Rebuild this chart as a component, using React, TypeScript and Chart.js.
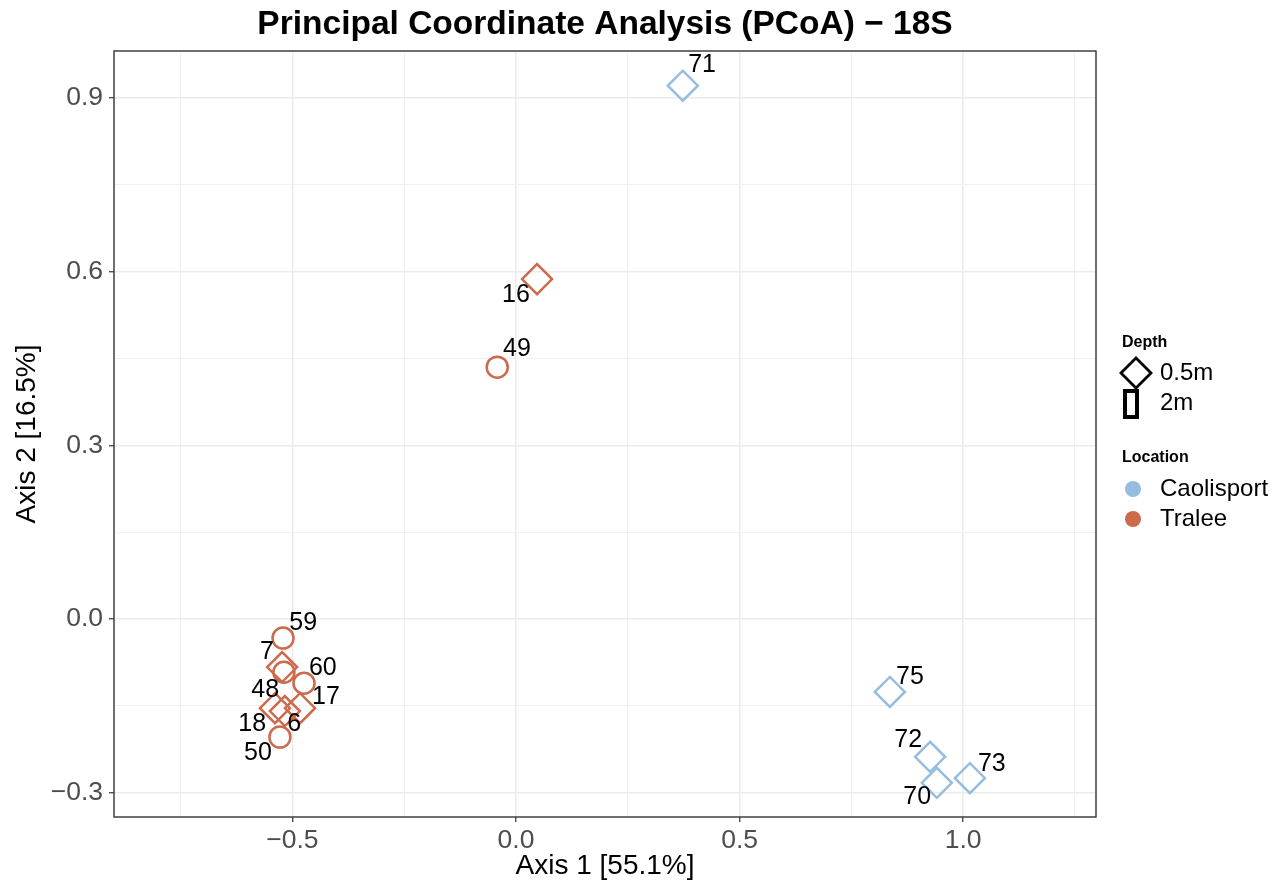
import React, { useEffect, useRef } from "react";
import { Chart, registerables } from "chart.js";

Chart.register(...registerables);

// ---- data ----
const sampleIds = ["71", "16", "49", "59", "7", "48", "60", "17", "18", "6", "50", "75", "72", "73", "70"];
const axis1 = [0.373, 0.047, -0.042, -0.521, -0.523, -0.519, -0.474, -0.483, -0.539, -0.517, -0.528, 0.836, 0.926, 1.015, 0.941];
const axis2 = [0.921, 0.587, 0.435, -0.033, -0.083, -0.092, -0.111, -0.154, -0.154, -0.159, -0.204, -0.126, -0.238, -0.275, -0.283];
const locationOf = ["Caolisport", "Tralee", "Tralee", "Tralee", "Tralee", "Tralee", "Tralee", "Tralee", "Tralee", "Tralee", "Tralee", "Caolisport", "Caolisport", "Caolisport", "Caolisport"];
const depthOf = ["0.5m", "0.5m", "2m", "2m", "0.5m", "2m", "2m", "0.5m", "0.5m", "0.5m", "2m", "0.5m", "0.5m", "0.5m", "0.5m"];
// repelled label positions (data units)
const labelX = [0.416, 0.0, 0.002, -0.476, -0.557, -0.561, -0.432, -0.425, -0.59, -0.496, -0.577, 0.881, 0.877, 1.064, 0.897];
const labelY = [0.957, 0.56, 0.466, -0.007, -0.057, -0.123, -0.085, -0.135, -0.181, -0.181, -0.231, -0.1, -0.209, -0.25, -0.307];

const locations = ["Caolisport", "Tralee"];
const locationColors = ["#96BDE0", "#CC6A4B"];
const depthLevels = ["0.5m", "2m"];
const depthStyles = ["rectRot", "circle"];

const xMajorTicks = [-0.5, 0, 0.5, 1.0];
const xMajorLabels = ["\u22120.5", "0.0", "0.5", "1.0"];
const xMinorTicks = [-0.75, -0.25, 0.25, 0.75, 1.25];
const yMajorTicks = [-0.3, 0, 0.3, 0.6, 0.9];
const yMajorLabels = ["\u22120.3", "0.0", "0.3", "0.6", "0.9"];
const yMinorTicks = [-0.15, 0.15, 0.45, 0.75];

const xRange = [-0.899, 1.297];
const yRange = [-0.342, 0.981];

const titleText = "Principal Coordinate Analysis (PCoA) \u2212 18S";
const xTitle = "Axis 1 [55.1%]";
const yTitle = "Axis 2 [16.5%]";

const FONT = "'Liberation Sans', Arial, sans-serif";

function isMajor(v: number, majors: number[]) {
  return majors.some((m) => Math.abs(m - v) < 1e-9);
}

export default function App() {
  const ref = useRef<HTMLCanvasElement | null>(null);

  useEffect(() => {
    const canvas = ref.current;
    if (!canvas) return;

    const datasets = locations.map((loc, li) => {
      const idx = sampleIds.map((_, i) => i).filter((i) => locationOf[i] === loc);
      return {
        label: loc,
        data: idx.map((i) => ({ x: axis1[i], y: axis2[i] })),
        pointStyle: idx.map((i) => depthStyles[depthLevels.indexOf(depthOf[i])]),
        pointRadius: idx.map((i) => (depthOf[i] === "0.5m" ? 15 : 10.5)),
        pointBorderWidth: 2.5,
        pointBorderColor: locationColors[li],
        pointBackgroundColor: "rgba(0,0,0,0)",
        showLine: false,
      };
    });

    const labelPlugin = {
      id: "pointLabels",
      afterDatasetsDraw(chart: any) {
        const ctx = chart.ctx;
        const xs = chart.scales.x;
        const ys = chart.scales.y;
        ctx.save();
        ctx.font = `25px ${FONT}`;
        ctx.fillStyle = "#000000";
        ctx.textAlign = "center";
        ctx.textBaseline = "middle";
        for (let i = 0; i < sampleIds.length; i++) {
          ctx.fillText(sampleIds[i], xs.getPixelForValue(labelX[i]), ys.getPixelForValue(labelY[i]));
        }
        ctx.restore();
      },
      afterDraw(chart: any) {
        const ctx = chart.ctx;
        const a = chart.chartArea;
        ctx.save();
        // panel border
        ctx.strokeStyle = "#333333";
        ctx.lineWidth = 1.4;
        ctx.strokeRect(a.left, a.top, a.right - a.left, a.bottom - a.top);

        // legend
        const lx = 1122;
        ctx.fillStyle = "#000000";
        ctx.textAlign = "left";
        ctx.textBaseline = "middle";
        ctx.font = `bold 16px ${FONT}`;
        ctx.fillText("Depth", lx, 343);
        ctx.font = `24px ${FONT}`;
        depthLevels.forEach((d, i) => {
          const cy = 373 + i * 30;
          ctx.fillStyle = "#000000";
          ctx.fillText(d, 1160, cy);
          ctx.strokeStyle = "#000000";
          if (depthStyles[i] === "rectRot") {
            ctx.lineWidth = 2.8;
            ctx.beginPath();
            ctx.moveTo(1136 - 15, cy);
            ctx.lineTo(1136, cy - 15);
            ctx.lineTo(1136 + 15, cy);
            ctx.lineTo(1136, cy + 15);
            ctx.closePath();
            ctx.stroke();
          } else {
            ctx.lineWidth = 4;
            ctx.strokeRect(1125, cy - 12, 12, 26);
          }
        });
        ctx.font = `bold 16px ${FONT}`;
        ctx.fillStyle = "#000000";
        ctx.fillText("Location", lx, 458);
        ctx.font = `24px ${FONT}`;
        locations.forEach((loc, i) => {
          const cy = 489 + i * 30;
          ctx.fillStyle = locationColors[i];
          ctx.beginPath();
          ctx.arc(1133, cy, 8, 0, Math.PI * 2);
          ctx.fill();
          ctx.fillStyle = "#000000";
          ctx.fillText(loc, 1160, cy);
        });
        ctx.restore();
      },
    };

    const gridColor = (majors: number[]) => (c: any) =>
      c.tick && isMajor(c.tick.value, majors) ? "#EBEBEB" : "#F0F0F0";
    const gridWidth = (majors: number[]) => (c: any) =>
      c.tick && isMajor(c.tick.value, majors) ? 1.5 : 1;
    const tickColor = (majors: number[]) => (c: any) =>
      c.tick && isMajor(c.tick.value, majors) ? "#333333" : "rgba(0,0,0,0)";

    const chart = new Chart(canvas, {
      type: "scatter",
      data: { datasets: datasets as any },
      plugins: [labelPlugin],
      options: {
        animation: false,
        responsive: false,
        layout: { padding: { left: 0, right: 186, top: 0, bottom: 0 } },
        plugins: {
          legend: { display: false },
          tooltip: { enabled: false },
          title: {
            display: true,
            text: titleText,
            fullSize: false,
            color: "#000000",
            font: { family: FONT, size: 33.5, weight: "bold" },
            padding: { top: 5, bottom: 5.8 },
          },
        },
        scales: {
          x: {
            type: "linear",
            min: xRange[0],
            max: xRange[1],
            afterBuildTicks: (s: any) => {
              s.ticks = [...xMinorTicks, ...xMajorTicks].sort((a, b) => a - b).map((v) => ({ value: v }));
            },
            afterFit: (s: any) => {
              s.height = 65;
            },
            border: { display: false },
            grid: {
              color: gridColor(xMajorTicks),
              lineWidth: gridWidth(xMajorTicks),
              tickColor: tickColor(xMajorTicks),
              tickLength: 5,
              tickWidth: 1.2,
            },
            ticks: {
              autoSkip: false,
              maxRotation: 0,
              padding: 3,
              color: "#4D4D4D",
              font: { family: FONT, size: 26.5 },
              callback: (v: any) => {
                const k = xMajorTicks.findIndex((m) => Math.abs(m - v) < 1e-9);
                return k >= 0 ? xMajorLabels[k] : "";
              },
            },
            title: {
              display: true,
              text: xTitle,
              color: "#000000",
              font: { family: FONT, size: 28 },
              padding: { top: 0, bottom: -1 },
            },
          },
          y: {
            type: "linear",
            min: yRange[0],
            max: yRange[1],
            afterBuildTicks: (s: any) => {
              s.ticks = [...yMinorTicks, ...yMajorTicks].sort((a, b) => a - b).map((v) => ({ value: v }));
            },
            afterFit: (s: any) => {
              s.width = 114;
            },
            border: { display: false },
            grid: {
              color: gridColor(yMajorTicks),
              lineWidth: gridWidth(yMajorTicks),
              tickColor: tickColor(yMajorTicks),
              tickLength: 5,
              tickWidth: 1.2,
            },
            ticks: {
              autoSkip: false,
              padding: 6,
              color: "#4D4D4D",
              font: { family: FONT, size: 26.5 },
              callback: (v: any) => {
                const k = yMajorTicks.findIndex((m) => Math.abs(m - v) < 1e-9);
                return k >= 0 ? yMajorLabels[k] : "";
              },
            },
            title: {
              display: true,
              text: yTitle,
              color: "#000000",
              font: { family: FONT, size: 28 },
              padding: { top: 10, bottom: 0 },
            },
          },
        },
      } as any,
    });

    return () => chart.destroy();
  }, []);

  return (
    <div style={{ position: "absolute", left: 0, top: 0, width: 1282, height: 882, background: "#ffffff" }}>
      <canvas ref={ref} width={1282} height={882} style={{ display: "block" }} />
    </div>
  );
}
